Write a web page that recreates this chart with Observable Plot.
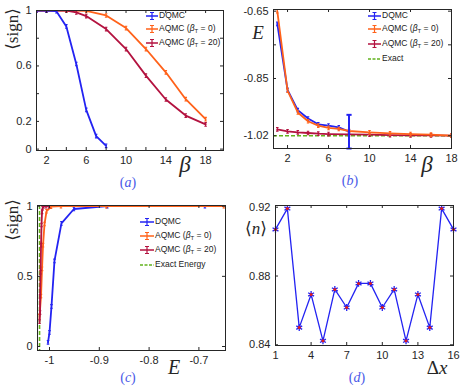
<!DOCTYPE html>
<html><head><meta charset="utf-8">
<script src="https://cdn.jsdelivr.net/npm/d3@7"></script>
<script src="https://cdn.jsdelivr.net/npm/@observablehq/plot@0.6"></script>
<style>
html,body{margin:0;padding:0;background:#fff}
#fig{position:relative;width:463px;height:387px;overflow:hidden;font-family:"Liberation Sans",Arial,Helvetica,sans-serif;color:#262626}
#fig > svg{position:absolute;margin:0}
.t{position:absolute;white-space:nowrap;line-height:1;transform:translate(-50%,-50%)}
.serif{font-family:"Liberation Serif","DejaVu Serif",serif}
.plab{color:#4a5ae8;font-family:"Liberation Serif","DejaVu Serif",serif;font-size:14px}
.leg{position:absolute;font-size:8.5px;display:flex;align-items:center;white-space:nowrap;line-height:1;transform:translateY(-50%);color:#222}
.leg svg{margin-right:1px;flex:none}
.leg sub{font-size:6px;vertical-align:-2px}
</style></head>
<body><div id="fig"></div>
<script>
// ---------- data ----------
// (a) <sign> vs beta
const betaA_dqmc = [1, 2, 3, 4, 5, 6, 7, 8];
const signA_dqmc = [1, 1, 0.995, 0.885, 0.614, 0.283, 0.094, 0.024];
const betaA_aq0  = [1, 2, 4, 6, 8, 10, 12, 14, 16, 18];
const signA_aq0  = [1, 1, 1, 0.997, 0.964, 0.873, 0.722, 0.554, 0.36, 0.216];
const betaA_aq20 = [1, 2, 4, 5, 6, 8, 10, 12, 14, 16, 18];
const signA_aq20 = [1, 1, 1, 0.986, 0.96, 0.866, 0.722, 0.53, 0.358, 0.242, 0.178];

// (b) E vs beta
const betaB_dqmc = [1, 2, 3, 4, 5, 6, 7, 8];
const eB_dqmc    = [-0.688, -0.884, -0.944, -0.969, -0.986, -0.99, -0.995, -1.008];
const errB_dqmc  = [0, 0, 0, 0, 0, 0, 0.004, 0.05];
const betaB_aq0  = [1, 2, 3, 4, 5, 6, 7, 8, 10, 12, 14, 16, 18];
const eB_aq0     = [-0.65, -0.886, -0.951, -0.977, -0.99, -0.997, -1.0, -1.006, -1.01, -1.013, -1.015, -1.017, -1.02];
const betaB_aq20 = [1, 2, 3, 4, 5, 6, 8, 10, 12, 14, 16, 18];
const eB_aq20    = [-1.001, -1.007, -1.01, -1.012, -1.014, -1.015, -1.016, -1.017, -1.018, -1.019, -1.019, -1.02];
const eExact     = -1.02;

// (c) <sign> vs E
const eC_dqmc    = [-0.688, -0.884, -0.951, -0.976, -0.990, -0.996, -1.0, -1.003];
const signC_dqmc = [1, 1, 0.98, 0.877, 0.61, 0.286, 0.1, 0.03];
const eC_aq0     = [-0.65, -0.886, -0.977, -0.997, -1.006, -1.01, -1.013, -1.015, -1.017, -1.02];
const signC_aq0  = [1, 1, 1, 0.997, 0.964, 0.873, 0.722, 0.554, 0.36, 0.216];
const eC_aq20    = [-1.001, -1.007, -1.012, -1.014, -1.015, -1.016, -1.017, -1.018, -1.019, -1.019, -1.02];
const signC_aq20 = [1, 1, 1, 0.986, 0.96, 0.866, 0.722, 0.53, 0.358, 0.242, 0.178];

// (d) <n> vs delta x
const dxD = [1, 2, 3, 4, 5, 6, 7, 8, 9, 10, 11, 12, 13, 14, 15, 16];
const nD  = [0.9071, 0.9192, 0.850, 0.8693, 0.8423, 0.8722, 0.8617, 0.8757, 0.8757, 0.8617, 0.8722, 0.8423, 0.8693, 0.850, 0.9192, 0.9071];

// ticks
const xTicksA = [2, 4, 6, 8, 10, 12, 14, 16, 18], xLabA = [2, 6, 10, 14, 18];
const yTicksA = [0, 0.2, 0.4, 0.6, 0.8, 1],       yLabA = [0, 0.2, 0.6, 1];
const xTicksB = [2, 6, 10, 14, 18],               xLabB = [2, 6, 10, 14, 18];
const yTicksB = [-1.02, -0.85, -0.75, -0.65],     yLabB = [-1.02, -0.85, -0.65];
const xTicksC = [-1, -0.9, -0.8, -0.7],           xLabC = [-1, -0.9, -0.8, -0.7];
const yTicksC = [0, 0.5, 1],                      yLabC = [0, 0.5, 1];
const xTicksD = [1, 4, 7, 10, 13, 16],            xLabD = [1, 4, 7, 10, 13, 16];
const yTicksD = [0.84, 0.88, 0.92],               yLabD = [0.84, 0.88, 0.92];

// ---------- style ----------
const AX = "#262626";
const BLUE = "#2323f2", ORANGE = "#ff621a", CRIMSON = "#b3123f", GREEN = "#62b31c", RED = "#e01a1a";
const errSym = {draw(ctx, size) {
  const r = Math.sqrt(size / Math.PI);
  ctx.moveTo(0, -r); ctx.lineTo(0, r);
  ctx.moveTo(-r * 0.7, -r); ctx.lineTo(r * 0.7, -r);
  ctx.moveTo(-r * 0.7, r); ctx.lineTo(r * 0.7, r);
}};
const capSym = {draw(ctx, size) {
  const r = Math.sqrt(size / Math.PI);
  ctx.moveTo(-r, 0); ctx.lineTo(r, 0);
}};
const zip = (xs, ys) => xs.map((x, i) => ({x, y: ys[i]}));
const fmt = d => String(d);
const fig = document.getElementById("fig");

function series(data, color, w = 1.8, r = 1.8) {
  return [
    Plot.line(data, {x: "x", y: "y", stroke: color, strokeWidth: w, clip: true}),
    Plot.dot(data, {x: "x", y: "y", symbol: errSym, r, stroke: color, strokeWidth: 1.1, clip: true})
  ];
}

function panel(o) {
  const iw = o.width - o.mL - o.mR, ih = o.height - o.mT - o.mB, L = 3;
  const p = Plot.plot({
    width: o.width, height: o.height,
    marginLeft: o.mL, marginRight: o.mR, marginTop: o.mT, marginBottom: o.mB,
    style: {fontSize: "11px", fontFamily: "'Liberation Sans', Arial, sans-serif", color: AX, background: "transparent", overflow: "visible"},
    x: {domain: o.xDomain, ticks: o.xTicks, tickFormat: d => o.xLab.includes(d) ? fmt(d) : "", tickSize: 0, tickPadding: 6, label: null},
    y: {domain: o.yDomain, ticks: o.yTicks, tickFormat: d => o.yLab.includes(d) ? fmt(d) : "", tickSize: 0, tickPadding: 5, label: null},
    marks: [
      ...o.marks,
      Plot.ruleX(o.xTicks, {x: d => d, insetTop: ih - L, stroke: AX}),
      Plot.ruleX(o.xTicks, {x: d => d, insetBottom: ih - L, stroke: AX}),
      Plot.ruleY(o.yTicks, {y: d => d, insetRight: iw - L, stroke: AX}),
      Plot.ruleY(o.yTicks, {y: d => d, insetLeft: iw - L, stroke: AX}),
      Plot.frame({stroke: AX, strokeWidth: 1})
    ]
  });
  p.style.left = o.left + "px"; p.style.top = o.top + "px";
  fig.appendChild(p);
}

// (a)
panel({left: 0, top: 0, width: 231, height: 190, mL: 36, mR: 8, mT: 10, mB: 40,
  xDomain: [1, 19.8], yDomain: [-0.01, 1],
  xTicks: xTicksA, xLab: xLabA, yTicks: yTicksA, yLab: yLabA,
  marks: [
    ...series(zip(betaA_aq0, signA_aq0), ORANGE),
    ...series(zip(betaA_aq20, signA_aq20), CRIMSON),
    ...series(zip(betaA_dqmc, signA_dqmc), BLUE)
  ]});

// (b)
const dqB = betaB_dqmc.map((x, i) => ({x, y: eB_dqmc[i], err: errB_dqmc[i]}));
panel({left: 231, top: 0, width: 232, height: 190, mL: 42, mR: 12, mT: 9, mB: 42,
  xDomain: [0.63, 18], yDomain: [-1.058, -0.645],
  xTicks: xTicksB, xLab: xLabB, yTicks: yTicksB, yLab: yLabB,
  marks: [
    Plot.ruleY([eExact], {y: d => d, stroke: GREEN, strokeWidth: 1.6, strokeDasharray: "4,2"}),
    ...series(zip(betaB_aq20, eB_aq20), CRIMSON),
    ...series(dqB, BLUE),
    ...series(zip(betaB_aq0, eB_aq0), ORANGE),
    Plot.ruleX(dqB, {filter: d => d.err > 0.01, x: "x", y1: d => d.y - d.err, y2: d => d.y + d.err, stroke: BLUE, strokeWidth: 2, clip: true}),
    Plot.dot(dqB, {filter: d => d.err > 0.01, x: "x", y: d => d.y + d.err, symbol: capSym, r: 2.6, stroke: BLUE, strokeWidth: 2}),
    Plot.dot(dqB, {filter: d => d.err > 0.01, x: "x", y: d => d.y - d.err, symbol: capSym, r: 2.6, stroke: BLUE, strokeWidth: 2})
  ]});

// (c)
panel({left: 0, top: 190, width: 231, height: 197, mL: 37, mR: 6, mT: 15, mB: 37,
  xDomain: [-1.0241, -0.6466], yDomain: [-0.0285, 1.005],
  xTicks: xTicksC, xLab: xLabC, yTicks: yTicksC, yLab: yLabC,
  marks: [
    Plot.ruleX([eExact], {x: d => d, stroke: GREEN, strokeWidth: 1.6, strokeDasharray: "4,2"}),
    ...series(zip(eC_dqmc, signC_dqmc), BLUE),
    ...series(zip(eC_aq0, signC_aq0), ORANGE),
    ...series(zip(eC_aq20, signC_aq20), CRIMSON)
  ]});

// (d)
const dD = zip(dxD, nD);
panel({left: 231, top: 190, width: 232, height: 197, mL: 44, mR: 10, mT: 15, mB: 42,
  xDomain: [1, 16], yDomain: [0.8396, 0.921],
  xTicks: xTicksD, xLab: xLabD, yTicks: yTicksD, yLab: yLabD,
  marks: [
    Plot.line(dD, {x: "x", y: "y", stroke: BLUE, strokeWidth: 1.3}),
    Plot.dot(dD, {x: "x", y: "y", symbol: "asterisk", r: 3.2, stroke: BLUE, strokeWidth: 1.3}),
    Plot.dot(dD, {x: "x", y: "y", r: 1.5, fill: RED, stroke: "none"})
  ]});

// ---------- annotations ----------
function txt(html, x, y, cls, css = "") {
  const d = document.createElement("div");
  d.className = "t " + (cls || "");
  d.innerHTML = html;
  d.style.cssText += `left:${x}px;top:${y}px;` + css;
  fig.appendChild(d);
}
const sign = "⟨sign⟩";
txt(sign, 12, 29, "serif", "font-size:17px;transform:translate(-50%,-50%) rotate(-90deg)");
txt("<i>β</i>", 185, 164, "serif", "font-size:23px");
txt("<i>E</i>", 258, 32, "serif", "font-size:19px");
txt("<i>β</i>", 427, 164, "serif", "font-size:23px");
txt(sign, 12, 220, "serif", "font-size:17px;transform:translate(-50%,-50%) rotate(-90deg)");
txt("<i>E</i>", 174, 367, "serif", "font-size:20px");
txt("⟨<i>n</i>⟩", 256, 228, "serif", "font-size:17px");
txt("Δ<i>x</i>", 437, 367, "serif", "font-size:19px");
txt("(<i>a</i>)", 128, 183, "plab");
txt("(<i>b</i>)", 350, 181, "plab");
txt("(<i>c</i>)", 128, 378, "plab");
txt("(<i>d</i>)", 357, 378, "plab");

function legendRow(x, y, w, color, html, dashed) {
  const d = document.createElement("div");
  d.className = "leg";
  d.style.left = x + "px"; d.style.top = y + "px";
  const h = 10, cx = w / 2;
  const sym = dashed ? "" :
    `<path d="M${cx},1.5V${h - 1.5}M${cx - 2},1.5H${cx + 2}M${cx - 2},${h - 1.5}H${cx + 2}" stroke="${color}" stroke-width="1.2" fill="none"/>`;
  d.innerHTML = `<svg width="${w}" height="${h}"><line x1="0" x2="${w}" y1="${h / 2}" y2="${h / 2}" stroke="${color}" stroke-width="1.5" ${dashed ? 'stroke-dasharray="3,1.5"' : ""}/>${sym}</svg><span>${html}</span>`;
  fig.appendChild(d);
}
const L0 = "AQMC (<i>β</i><sub>T</sub> = 0)", L20 = "AQMC (<i>β</i><sub>T</sub> = 20)";
legendRow(146, 15.7, 12, BLUE, "DQMC");
legendRow(146, 29.3, 12, ORANGE, L0);
legendRow(146, 42.5, 12, CRIMSON, L20);

legendRow(368, 15.7, 13, BLUE, "DQMC");
legendRow(368, 29.3, 13, ORANGE, L0);
legendRow(368, 43.5, 13, CRIMSON, L20);
legendRow(368, 58.5, 13, GREEN, "Exact", true);

legendRow(140, 221.5, 14, BLUE, "DQMC");
legendRow(140, 235.5, 14, ORANGE, L0);
legendRow(140, 250, 14, CRIMSON, L20);
legendRow(140, 264.5, 14, GREEN, "Exact Energy", true);
</script>
</body></html>
